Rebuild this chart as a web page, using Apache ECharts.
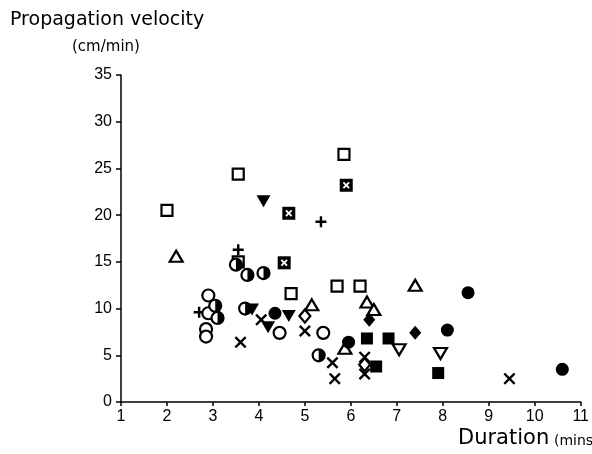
<!DOCTYPE html>
<html>
<head>
<meta charset="utf-8">
<script src="https://cdn.jsdelivr.net/npm/echarts@6/dist/echarts.min.js"></script>
<style>html,body{margin:0;padding:0;background:#fff}#c{width:592px;height:454px}</style>
</head>
<body>
<div id="c"></div>
<script>
// ---- data: [duration (mins), propagation velocity (cm/min)] ----
var xTicks = [1, 2, 3, 4, 5, 6, 7, 8, 9, 10, 11];
var yTicks = [0, 5, 10, 15, 20, 25, 30, 35];
var openSquare = [[2.0,20.5],[3.55,24.4],[3.55,15.0],[5.85,26.5],[4.7,11.6],[5.7,12.4],[6.2,12.4]];
var crossedSquare = [[4.65,20.2],[4.55,14.9],[5.9,23.2]];
var openTriangle = [[2.2,15.6],[7.4,12.5],[5.15,10.4],[6.35,10.7],[6.5,9.9],[5.87,5.75]];
var pluses = [[3.55,16.3],[5.35,19.3],[2.7,9.6]];
var filledDownTri = [[4.1,21.5],[3.85,9.9],[4.2,8.0],[4.65,9.2]];
var openDownTri = [[7.05,5.6],[7.95,5.2]];
var halfCircle = [[3.5,14.7],[3.75,13.6],[4.1,13.8],[3.05,10.3],[3.1,9.0],[3.7,10.0],[5.3,5.0]];
var openCircle = [[2.9,11.4],[2.9,9.5],[2.85,7.8],[2.85,7.0],[4.45,7.4],[5.4,7.4]];
var filledCircle = [[4.35,9.5],[5.95,6.4],[8.55,11.7],[8.1,7.7],[10.6,3.5]];
var crosses = [[3.6,6.4],[4.05,8.8],[5.0,7.6],[5.6,4.2],[5.65,2.5],[6.3,4.8],[6.3,3.0],[9.45,2.5]];
var openDiamond = [[5.0,9.2],[6.3,4.0]];
var filledDiamond = [[6.4,8.8],[7.4,7.4]];
var filledSquare = [[6.35,6.8],[6.82,6.8],[6.55,3.8],[7.9,3.1]];

var XPATH = 'path://M0,1.4 L1.4,0 L5,3.6 L8.6,0 L10,1.4 L6.4,5 L10,8.6 L8.6,10 L5,6.4 L1.4,10 L0,8.6 L3.6,5 Z';
var XMARK = 'path://M0,1.9 L1.9,0 L5,3.1 L8.1,0 L10,1.9 L6.9,5 L10,8.1 L8.1,10 L5,6.9 L1.9,10 L0,8.1 L3.1,5 Z';
var PLUSPATH = 'path://M3.9,0 H6.1 V3.9 H10 V6.1 H6.1 V10 H3.9 V6.1 H0 V3.9 H3.9 Z';
var DOWNTRI = 'path://M0,0 L10,0 L5,9 Z';
var HALFDISC = 'path://M0,0 A10,10 0 0,1 0,20 Z';

function open(name, data, symbol, size) {
  return {type:'scatter', name:name, data:data, symbol:symbol, symbolSize:size,
    itemStyle:{color:'#fff', borderColor:'#000', borderWidth:2.2, opacity:1}, silent:true};
}
function filled(name, data, symbol, size, extra) {
  var s = {type:'scatter', name:name, data:data, symbol:symbol, symbolSize:size,
    itemStyle:{color:'#000', opacity:1}, silent:true};
  if (extra) for (var k in extra) s[k] = extra[k];
  return s;
}

var chart = echarts.init(document.getElementById('c'));
chart.setOption({
  animation:false,
  grid:{left:121, right:9, top:75, bottom:52},
  xAxis:{type:'value', min:1, max:11, interval:1,
    axisLine:{lineStyle:{color:'#000', width:1.5}},
    axisTick:{length:4, lineStyle:{color:'#000', width:1.5}},
    splitLine:{show:false},
    axisLabel:{color:'#000', fontFamily:'Liberation Sans', fontSize:16, margin:7,
      formatter:function(v){return xTicks.indexOf(v) >= 0 ? String(v) : '';}}},
  yAxis:{type:'value', min:0, max:35, interval:5,
    axisLine:{show:true, lineStyle:{color:'#000', width:1.5}},
    axisTick:{show:true, length:5, lineStyle:{color:'#000', width:1.5}},
    splitLine:{show:false},
    axisLabel:{color:'#000', fontFamily:'Liberation Sans', fontSize:16, margin:9,
      formatter:function(v){return yTicks.indexOf(v) >= 0 ? String(v) : '';}}},
  graphic:[
    {type:'text', left:10, top:11, style:{text:'Propagation velocity', font:'19px "DejaVu Sans"', fill:'#000'}},
    {type:'text', left:72, top:40, style:{text:'(cm/min)', font:'15px "DejaVu Sans"', fill:'#000'}},
    {type:'text', left:458, top:428, style:{text:'Duration', font:'21px "DejaVu Sans"', fill:'#000'}},
    {type:'text', left:554, top:434, style:{text:'(mins)', font:'14px "DejaVu Sans"', fill:'#000'}}
  ],
  series:[
    open('open square', openSquare, 'rect', 11),
    filled('crossed square', crossedSquare, 'rect', 13),
    filled('crossed square mark', crossedSquare, XMARK, 7, {itemStyle:{color:'#fff', opacity:1}}),
    open('open triangle', openTriangle, 'triangle', [13, 11]),
    filled('plus', pluses, PLUSPATH, 11),
    filled('filled down triangle', filledDownTri, DOWNTRI, [14, 12]),
    open('open down triangle', openDownTri, DOWNTRI, [13, 11]),
    open('open circle', openCircle, 'circle', 12),
    open('half circle', halfCircle, 'circle', 12),
    filled('half circle fill', halfCircle, HALFDISC, [6, 12], {symbolOffset:[3, 0]}),
    filled('filled circle', filledCircle, 'circle', 13),
    filled('cross', crosses, XPATH, 12),
    open('open diamond', openDiamond, 'diamond', [11, 13]),
    filled('filled diamond', filledDiamond, 'diamond', [12, 14]),
    filled('filled square', filledSquare, 'rect', 12)
  ]
});
</script>
</body>
</html>
